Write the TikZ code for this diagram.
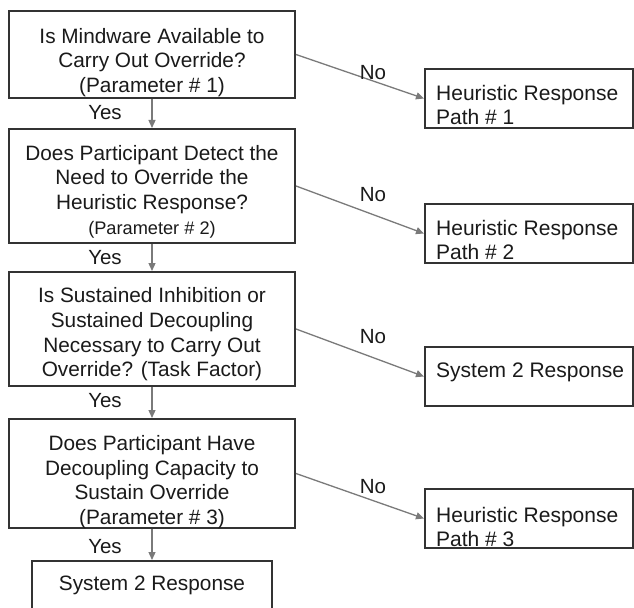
\documentclass[tikz,border=0pt]{standalone}
\usepackage{fontspec}
\setmainfont{Liberation Sans}
\usetikzlibrary{arrows.meta}
\definecolor{txt}{HTML}{1A1A1A}
\definecolor{edgec}{HTML}{333333}
\definecolor{arrc}{HTML}{7A7A7A}
\begin{document}
\begin{tikzpicture}[x=1bp,y=-1bp,
  box/.style={draw=edgec, line width=2bp, fill=white, inner sep=0pt, minimum width=#1},
  lbox/.style={box=286bp},
  rbox/.style={box=208bp, minimum height=59bp},
  ctext/.style={inner sep=0pt, align=center, text=txt, font=\fontsize{20.8bp}{24.7bp}\selectfont},
  rtext/.style={inner sep=0pt, align=left, anchor=west, text=txt, font=\fontsize{21bp}{24bp}\selectfont},
  lab/.style={inner sep=0pt, text=txt, font=\fontsize{20.5bp}{24bp}\selectfont},
  arrow/.style={draw=arrc, line width=1.3bp, -{Triangle[length=8bp,width=7bp]}}
]
\clip (0,0) rectangle (634,608);
\fill[white] (0,0) rectangle (634,608);

% left boxes
\node[lbox, minimum height=87bp] (b1) at (152,54.5) {};
\node[lbox, minimum height=114bp] (b2) at (152,186) {};
\node[lbox, minimum height=114bp] (b3) at (152,329) {};
\node[lbox, minimum height=109bp] (b4) at (152,473.5) {};
\node[box=240bp, minimum height=64bp] (b5) at (152,593) {};

% right boxes
\node[rbox] (r1) at (529,98.5) {};
\node[rbox] (r2) at (529,233.5) {};
\node[rbox] (r3) at (529,376.5) {};
\node[rbox] (r4) at (529,518.5) {};

% texts in left boxes
\node[ctext] (t1) at (152,62.5) {Is Mindware Available to\\Carry Out Override?\\(Parameter \# 1)};
\node[ctext] (t2) at (152,191.5) {Does Participant Detect the\\Need to Override the\\Heuristic Response?\\{\fontsize{18.2bp}{22bp}\selectfont (Parameter \# 2)}};
\node[ctext] (t3) at (152,334.5) {Is Sustained Inhibition or\\Sustained Decoupling\\Necessary to Carry Out\\Override? (Task Factor)};
\node[ctext] (t4) at (152,482) {Does Participant Have\\Decoupling Capacity to\\Sustain Override\\(Parameter \# 3)};
\node[ctext] (t5) at (152,585) {System 2 Response};

% texts in right boxes
\node[rtext] (u1) at (436,105) {Heuristic Response\\Path \# 1};
\node[rtext] (u2) at (436,240) {Heuristic Response\\Path \# 2};
\node[rtext] (u3) at (436,372) {System 2 Response};
\node[rtext] (u4) at (436,526.5) {Heuristic Response\\Path \# 3};

% yes arrows
\draw[arrow] (b1.south) -- (b2.north);
\draw[arrow] (b2.south) -- (b3.north);
\draw[arrow] (b3.south) -- (b4.north);
\draw[arrow] (b4.south) -- (b5.north);

% no arrows
\draw[arrow] (b1.east) -- (r1.west);
\draw[arrow] (b2.east) -- (r2.west);
\draw[arrow] (b3.east) -- (r3.west);
\draw[arrow] (b4.east) -- (r4.west);

% labels
\node[lab] (y1) at (105,113) {Yes};
\node[lab] (y2) at (105,258) {Yes};
\node[lab] (y3) at (105,401) {Yes};
\node[lab] (y4) at (105,547) {Yes};
\node[lab] (n1) at (373,73) {No};
\node[lab] (n2) at (373,195) {No};
\node[lab] (n3) at (373,337) {No};
\node[lab] (n4) at (373,487) {No};
\end{tikzpicture}
\end{document}
